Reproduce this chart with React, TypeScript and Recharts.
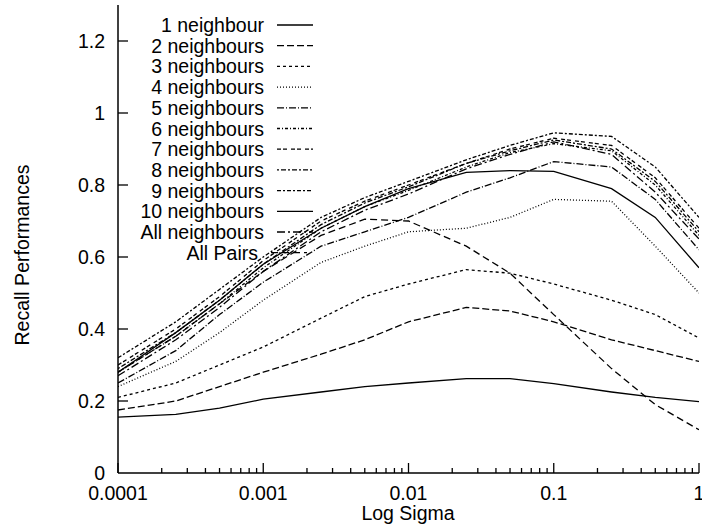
import React from 'react';
import { LineChart, Line, XAxis, YAxis } from 'recharts';

const xs = [0.0001, 0.00025, 0.0005, 0.001, 0.0025, 0.005, 0.01, 0.025, 0.05, 0.1, 0.25, 0.5, 1];

const n1 = [0.155, 0.163, 0.18, 0.205, 0.225, 0.24, 0.25, 0.262, 0.262, 0.248, 0.225, 0.21, 0.198];
const n2 = [0.175, 0.2, 0.24, 0.28, 0.33, 0.37, 0.42, 0.46, 0.45, 0.42, 0.37, 0.34, 0.31];
const n3 = [0.21, 0.25, 0.3, 0.35, 0.43, 0.49, 0.525, 0.565, 0.555, 0.525, 0.48, 0.44, 0.375];
const n4 = [0.24, 0.31, 0.39, 0.48, 0.585, 0.63, 0.67, 0.68, 0.71, 0.76, 0.755, 0.63, 0.5];
const n5 = [0.25, 0.34, 0.44, 0.53, 0.63, 0.67, 0.71, 0.78, 0.82, 0.865, 0.85, 0.76, 0.62];
const n6 = [0.28, 0.38, 0.47, 0.57, 0.68, 0.74, 0.785, 0.85, 0.89, 0.915, 0.895, 0.8, 0.66];
const n7 = [0.3, 0.4, 0.49, 0.59, 0.7, 0.755, 0.8, 0.86, 0.9, 0.93, 0.91, 0.82, 0.68];
const n8 = [0.29, 0.39, 0.48, 0.58, 0.69, 0.75, 0.795, 0.86, 0.895, 0.925, 0.9, 0.81, 0.67];
const n9 = [0.32, 0.42, 0.51, 0.6, 0.71, 0.765, 0.81, 0.87, 0.91, 0.945, 0.935, 0.85, 0.71];
const n10 = [0.28, 0.39, 0.48, 0.58, 0.68, 0.74, 0.79, 0.835, 0.84, 0.838, 0.79, 0.71, 0.57];
const nAll = [0.27, 0.37, 0.46, 0.56, 0.67, 0.73, 0.775, 0.845, 0.885, 0.92, 0.885, 0.78, 0.65];
const pairs = [0.28, 0.38, 0.47, 0.56, 0.66, 0.705, 0.7, 0.63, 0.555, 0.44, 0.29, 0.19, 0.12];

const seriesNames = [
  '1 neighbour', '2 neighbours', '3 neighbours', '4 neighbours', '5 neighbours',
  '6 neighbours', '7 neighbours', '8 neighbours', '9 neighbours', '10 neighbours',
  'All neighbours', 'All Pairs',
];
const seriesValues = [n1, n2, n3, n4, n5, n6, n7, n8, n9, n10, nAll, pairs];
const seriesDash = [
  undefined, '7 3', '3 3', '1 2', '7 2 1 2', '3 2 1 2', '4 2 4 4', '2 2 5 2', '4 2 2 2',
  undefined, '8 3 2 3', '7 4',
];

const majorX = [0.0001, 0.001, 0.01, 0.1, 1];
const xTickLabels = ['0.0001', '0.001', '0.01', '0.1', '1'];
const yTicks = [0, 0.2, 0.4, 0.6, 0.8, 1, 1.2];
const yTickLabels = ['0', '0.2', '0.4', '0.6', '0.8', '1', '1.2'];

const allXTicks: number[] = [];
majorX.forEach((m, i) => {
  allXTicks.push(m);
  if (i < majorX.length - 1) {
    for (let k = 2; k <= 9; k++) allXTicks.push(Number((m * k).toPrecision(3)));
  }
});

const data = xs.map((x, i) => {
  const row: Record<string, number> = { x };
  seriesValues.forEach((s, j) => {
    row['s' + j] = s[i];
  });
  return row;
});

const FONT = '"Liberation Sans", Arial, Helvetica, sans-serif';
const FS = 19.5;

const isMajor = (v: number) => majorX.some((m) => Math.abs(m - v) / m < 1e-6);

const BottomTick = (props: any) => {
  const { x, y, payload } = props;
  const v = payload.value;
  const major = isMajor(v);
  const idx = majorX.findIndex((m) => Math.abs(m - v) / m < 1e-6);
  return (
    <g>
      <line x1={x} x2={x} y1={y} y2={y - (major ? 10 : 5)} stroke="#000" strokeWidth={1.3} />
      {major && (
        <text x={x} y={y + 27} textAnchor="middle" fontFamily={FONT} fontSize={FS} fill="#000">
          {xTickLabels[idx]}
        </text>
      )}
    </g>
  );
};

const TopTick = (props: any) => {
  const { x, y, payload } = props;
  const major = isMajor(payload.value);
  return <line x1={x} x2={x} y1={y} y2={y + (major ? 10 : 5)} stroke="#000" strokeWidth={1.3} />;
};

const LeftTick = (props: any) => {
  const { x, y, payload } = props;
  const idx = yTicks.findIndex((t) => Math.abs(t - payload.value) < 1e-9);
  return (
    <g>
      {payload.value > 0 && <line x1={x} x2={x + 10} y1={y} y2={y} stroke="#000" strokeWidth={1.3} />}
      <text x={x - 13} y={y + 7} textAnchor="end" fontFamily={FONT} fontSize={FS} fill="#000">
        {yTickLabels[idx]}
      </text>
    </g>
  );
};

const RightTick = (props: any) => {
  const { x, y, payload } = props;
  if (payload.value <= 0) return <g />;
  return <line x1={x} x2={x - 10} y1={y} y2={y} stroke="#000" strokeWidth={1.3} />;
};

export default function App() {
  const legendTop = 25;
  const legendStep = 20.7;
  return (
    <div style={{ position: 'absolute', left: 0, top: 0, width: 702, height: 526, background: '#fff' }}>
      <LineChart width={702} height={526} data={data} margin={{ top: 5, right: 3, left: 0, bottom: 0 }}>
        <XAxis
          xAxisId="b"
          dataKey="x"
          type="number"
          scale="log"
          domain={[0.0001, 1]}
          allowDataOverflow
          ticks={allXTicks}
          interval={0}
          tickSize={0}
          tickMargin={0}
          height={53}
          tick={<BottomTick />}
          axisLine={{ stroke: '#000', strokeWidth: 1.5 }}
          tickLine={false}
        />
        <XAxis
          xAxisId="t"
          orientation="top"
          dataKey="x"
          type="number"
          scale="log"
          domain={[0.0001, 1]}
          allowDataOverflow
          ticks={allXTicks}
          interval={0}
          tickSize={0}
          tickMargin={0}
          height={0}
          tick={<TopTick />}
          axisLine={{ stroke: '#000', strokeWidth: 1.5 }}
          tickLine={false}
        />
        <YAxis
          yAxisId="l"
          type="number"
          domain={[0, 1.3]}
          ticks={yTicks}
          interval={0}
          width={118}
          tickSize={0}
          tickMargin={0}
          tick={<LeftTick />}
          axisLine={{ stroke: '#000', strokeWidth: 1.5 }}
          tickLine={false}
        />
        <YAxis
          yAxisId="r"
          orientation="right"
          type="number"
          domain={[0, 1.3]}
          ticks={yTicks}
          interval={0}
          width={0}
          tickSize={0}
          tickMargin={0}
          tick={<RightTick />}
          axisLine={{ stroke: '#000', strokeWidth: 1.5 }}
          tickLine={false}
        />
        {seriesNames.map((name, j) => (
          <Line
            key={name}
            xAxisId="b"
            yAxisId="l"
            dataKey={'s' + j}
            name={name}
            type="linear"
            stroke="#000"
            strokeWidth={1.3}
            strokeDasharray={seriesDash[j]}
            dot={false}
            isAnimationActive={false}
          />
        ))}
      </LineChart>
      <svg
        width={702}
        height={526}
        style={{ position: 'absolute', left: 0, top: 0, pointerEvents: 'none' }}
      >
        {seriesNames.map((name, j) => {
          const cy = legendTop + j * legendStep;
          const right = j === seriesNames.length - 1 ? 258 : 264;
          return (
            <g key={name}>
              <text x={right} y={cy + 7} textAnchor="end" fontFamily={FONT} fontSize={FS} fill="#000">
                {name}
              </text>
              <line
                x1={right + 13}
                x2={right + 49}
                y1={cy}
                y2={cy}
                stroke="#000"
                strokeWidth={1.3}
                strokeDasharray={seriesDash[j]}
              />
            </g>
          );
        })}
        <text x={408} y={520} textAnchor="middle" fontFamily={FONT} fontSize={FS} fill="#000">
          Log Sigma
        </text>
        <text
          x={0}
          y={0}
          transform="translate(29,255) rotate(-90)"
          textAnchor="middle"
          fontFamily={FONT}
          fontSize={FS}
          fill="#000"
        >
          Recall Performances
        </text>
      </svg>
    </div>
  );
}
